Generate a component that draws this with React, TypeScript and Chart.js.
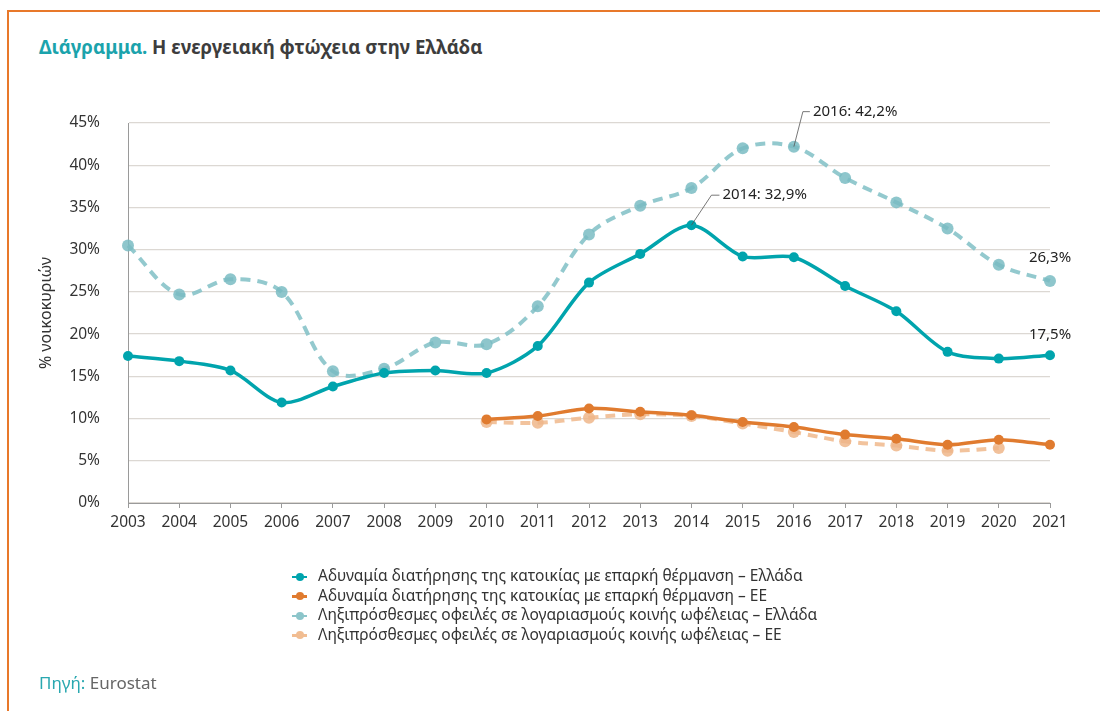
import React, { useEffect, useRef } from "react";
import { Chart, registerables } from "chart.js";
Chart.register(...registerables);

const years = ["2003","2004","2005","2006","2007","2008","2009","2010","2011","2012","2013","2014","2015","2016","2017","2018","2019","2020","2021"];
const heatingGreece = [17.4,16.8,15.7,11.9,13.8,15.4,15.7,15.4,18.6,26.1,29.5,32.9,29.2,29.1,25.7,22.7,17.9,17.1,17.5];
const heatingEU = [null,null,null,null,null,null,null,9.9,10.3,11.2,10.8,10.4,9.6,9.0,8.1,7.6,6.9,7.5,6.9];
const arrearsGreece = [30.5,24.7,26.5,25.0,15.6,15.9,19.0,18.8,23.3,31.8,35.2,37.3,42.0,42.2,38.5,35.6,32.5,28.2,26.3];
const arrearsEU = [null,null,null,null,null,null,null,9.6,9.5,10.1,10.5,10.3,9.4,8.4,7.3,6.8,6.2,6.5,null];
const seriesNames = [
  "Αδυναμία διατήρησης της κατοικίας με επαρκή θέρμανση – Ελλάδα",
  "Αδυναμία διατήρησης της κατοικίας με επαρκή θέρμανση – ΕΕ",
  "Ληξιπρόσθεσμες οφειλές σε λογαριασμούς κοινής ωφέλειας – Ελλάδα",
  "Ληξιπρόσθεσμες οφειλές σε λογαριασμούς κοινής ωφέλειας – ΕΕ",
];
const yTicks = [0,5,10,15,20,25,30,35,40,45];

const TEAL = "#00A4AD";
const ORANGE = "#E07B2F";
const LTEAL = "rgba(135,195,201,0.9)";
const LORANGE = "rgba(241,189,146,0.9)";
const colors = [TEAL, ORANGE, "#8CC5CA", "#F1BD92"];
const FONT = "'Noto Sans', sans-serif";

const fmt = (v: number) => v.toFixed(1).replace(".", ",") + "%";

const calloutPlugin = {
  id: "callouts",
  afterDatasetsDraw(chart: any) {
    const ctx = chart.ctx;
    ctx.save();
    ctx.font = `15px ${FONT}`;
    ctx.fillStyle = "#222";
    ctx.strokeStyle = "#555";
    ctx.lineWidth = 0.8;
    const callouts = [
      { ds: 0, i: 11, dx: 20, dy: -30, hx: 28, values: heatingGreece },
      { ds: 2, i: 13, dx: 9, dy: -35, hx: 16, values: arrearsGreece },
    ];
    callouts.forEach((c) => {
      const p = chart.getDatasetMeta(c.ds).data[c.i];
      ctx.beginPath();
      ctx.moveTo(p.x, p.y);
      ctx.lineTo(p.x + c.dx, p.y + c.dy);
      ctx.lineTo(p.x + c.hx, p.y + c.dy);
      ctx.stroke();
      ctx.textAlign = "left";
      ctx.textBaseline = "middle";
      ctx.fillText(`${years[c.i]}: ${fmt(c.values[c.i] as number)}`, p.x + c.hx + 3, p.y + c.dy);
    });
    const ends = [
      { ds: 2, i: 18, dy: -23, values: arrearsGreece },
      { ds: 0, i: 18, dy: -20, values: heatingGreece },
    ];
    ends.forEach((e) => {
      const p = chart.getDatasetMeta(e.ds).data[e.i];
      ctx.textAlign = "center";
      ctx.textBaseline = "middle";
      ctx.fillText(fmt(e.values[e.i] as number), p.x, p.y + e.dy);
    });
    ctx.restore();
  },
};

function Marker({ color }: { color: string }) {
  return (
    <span style={{ position: "relative", display: "inline-block", width: 15, height: 10, marginRight: 11, verticalAlign: "middle" }}>
      <span style={{ position: "absolute", left: 0, top: 4, width: 15, height: 2.5, background: color }} />
      <span style={{ position: "absolute", left: 3.5, top: 1, width: 8, height: 8, borderRadius: 4, background: color }} />
    </span>
  );
}

export default function App() {
  const ref = useRef<HTMLCanvasElement>(null);
  useEffect(() => {
    const chart = new Chart(ref.current!, {
      type: "line",
      data: {
        labels: years,
        datasets: [
          { label: seriesNames[0], data: heatingGreece, borderColor: TEAL, backgroundColor: TEAL, borderWidth: 3.5, pointRadius: 5, pointBorderWidth: 0, tension: 0.3 },
          { label: seriesNames[1], data: heatingEU, borderColor: ORANGE, backgroundColor: ORANGE, borderWidth: 3.5, pointRadius: 5, pointBorderWidth: 0, tension: 0.3 },
          { label: seriesNames[2], data: arrearsGreece, borderColor: LTEAL, backgroundColor: "rgba(122,188,195,0.85)", borderWidth: 4, borderDash: [10, 7], pointRadius: 6, pointBorderWidth: 0, tension: 0.35 },
          { label: seriesNames[3], data: arrearsEU, borderColor: LORANGE, backgroundColor: "rgba(238,182,138,0.85)", borderWidth: 4, borderDash: [10, 7], pointRadius: 6, pointBorderWidth: 0, tension: 0.35 },
        ],
      },
      options: {
        animation: false,
        responsive: false,
        maintainAspectRatio: false,
        layout: { padding: { top: 123, right: 50, bottom: 173, left: 0 } },
        plugins: { legend: { display: false }, tooltip: { enabled: false } },
        scales: {
          x: {
            afterFit: (s: any) => { s.height = 35; },
            grid: { display: true, drawOnChartArea: false, drawTicks: true, tickLength: 5, color: "#9a9a9a" },
            border: { color: "#9a9a9a" },
            ticks: { color: "#333", font: { family: FONT, size: 15.5 }, padding: 5, maxRotation: 0, autoSkip: false },
          },
          y: {
            min: 0,
            max: 45,
            afterFit: (s: any) => { s.width = 128; },
            afterBuildTicks: (s: any) => { s.ticks = yTicks.map((v) => ({ value: v })); },
            grid: { color: "#dcd8d3", lineWidth: 1.3, drawTicks: false },
            border: { color: "#9a9a9a" },
            ticks: { color: "#333", font: { family: FONT, size: 15.5 }, padding: 28, callback: (v: any) => v + "%" },
            title: { display: true, text: "% νοικοκυριών", color: "#333", font: { family: FONT, size: 16 }, padding: { top: 37, bottom: 0 } },
          },
        },
      },
      plugins: [calloutPlugin],
    });
    return () => chart.destroy();
  }, []);

  return (
    <div style={{ position: "absolute", left: 0, top: 0, width: 1100, height: 711, overflow: "hidden", background: "#fff", fontFamily: FONT }}>
      <div style={{ position: "absolute", left: 7, top: 10, right: -5, bottom: -5, borderTop: "2px solid #E8782A", borderLeft: "2px solid #E8782A" }} />
      <div style={{ position: "absolute", left: 39, top: 34, fontSize: 18.7, fontWeight: 700, color: "#3d3d3d", whiteSpace: "nowrap" }}>
        <span style={{ color: "#1BA3AC" }}>Διάγραμμα.</span> Η ενεργειακή φτώχεια στην Ελλάδα
      </div>
      <canvas ref={ref} width={1100} height={711} style={{ position: "absolute", left: 0, top: 0 }} />
      <div style={{ position: "absolute", left: 292, top: 566, fontSize: 15.5, lineHeight: "19.5px", color: "#333" }}>
        {seriesNames.map((n, i) => (
          <div key={i} style={{ whiteSpace: "nowrap" }}>
            <Marker color={colors[i]} />
            {n}
          </div>
        ))}
      </div>
      <div style={{ position: "absolute", left: 39, top: 671, fontSize: 17, color: "#666" }}>
        <span style={{ color: "#2AA8B0" }}>Πηγή:</span> Eurostat
      </div>
    </div>
  );
}
